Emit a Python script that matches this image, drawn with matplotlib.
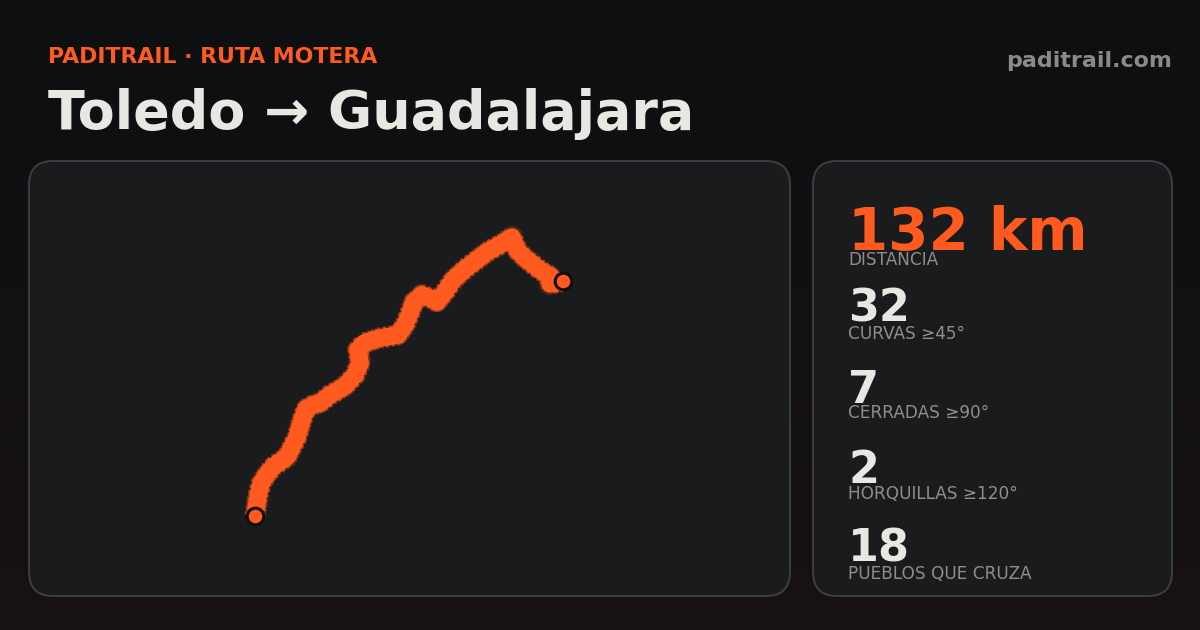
import matplotlib
matplotlib.use('Agg')
import matplotlib.pyplot as plt
import numpy as np
from matplotlib.patches import FancyBboxPatch

# route, in map panel units
route_x = [226, 229, 232, 238, 245, 258, 263, 268, 273, 277, 284, 291, 301, 316, 326, 331, 329, 335, 351, 369,
           376, 381, 385, 393, 401, 408, 416, 424, 436, 458, 474, 483, 488, 496, 511, 521, 521, 527, 534]
route_y = [80, 100, 112, 122, 130, 139, 149, 159, 176, 187, 191, 193, 201, 210, 221, 233, 246, 253, 258, 261,
           271, 283, 294, 301, 298, 294, 304, 316, 327, 344, 353, 359, 346, 338, 326, 320, 312, 313, 315]

stat_values = ['132 km', '32', '7', '2', '18']
stat_labels = ['DISTANCIA', 'CURVAS ≥45°', 'CERRADAS ≥90°', 'HORQUILLAS ≥120°', 'PUEBLOS QUE CRUZA']
stat_value_y = [250, 322, 403, 483, 562]
stat_label_y = [265, 339, 418, 499, 579]

ORANGE = '#ff5a1f'
WHITE = '#e8e8e2'
GREY = '#8e8e8e'

fig = plt.figure(figsize=(12, 6.3), dpi=100)

# whole figure canvas in pixels, y going down
bg = fig.add_axes([0, 0, 1, 1])
bg.set_xlim(0, 1200)
bg.set_ylim(630, 0)
bg.axis('off')

top = np.array([13, 15, 17]) / 255
bottom = np.array([24, 18, 18]) / 255
t = np.linspace(0, 1, 256)[:, None, None]
bg.imshow(top + (bottom - top) * t, extent=[0, 1200, 630, 0], aspect='auto', zorder=0)

# cards
for x0, x1 in [(29, 790), (813, 1172)]:
    card = FancyBboxPatch((x0 + 24, 161 + 24), x1 - x0 - 48, 435 - 48,
                          boxstyle='round,pad=24,rounding_size=24',
                          fc='#191b1d', ec='#3c3e42', lw=1.4, zorder=1)
    bg.add_patch(card)

# header
bg.text(48, 63, 'PADITRAIL · RUTA MOTERA', color=ORANGE, fontsize=15.85, fontweight='bold')
bg.text(48, 129, 'Toledo → Guadalajara', color=WHITE, fontsize=38.8, fontweight='bold')
bg.text(1172, 67, 'paditrail.com', color='#8a8a88', fontsize=15.9, fontweight='bold', ha='right')

# stats
for i in range(len(stat_values)):
    size = 41.7 if i == 0 else 32
    color = ORANGE if i == 0 else WHITE
    bg.text(848, stat_value_y[i], stat_values[i], color=color, fontsize=size, fontweight='bold')
    bg.text(848, stat_label_y[i], stat_labels[i], color=GREY, fontsize=12.2)

# map panel
ax = fig.add_axes([29 / 1200, 34 / 630, 761 / 1200, 435 / 630])
ax.set_xlim(0, 761)
ax.set_ylim(0, 435)
ax.axis('off')
ax.patch.set_alpha(0)

# dark rough edge, then the orange stroke over it
ax.plot(route_x, route_y, color='#5e2a14', lw=16, linestyle=(0, (0.12, 0.12)), alpha=0.9)
ax.plot(route_x, route_y, color=ORANGE, lw=14.5, linestyle=(0, (0.25, 0.07)), alpha=0.6)
ax.plot(route_x, route_y, color=ORANGE, lw=12.5, solid_capstyle='round', solid_joinstyle='round')

# start and end
ax.plot(route_x[0], route_y[0], 'o', ms=12, mfc=ORANGE, mec='#120c0a', mew=2.2)
ax.plot(route_x[-1], route_y[-1], 'o', ms=12, mfc=ORANGE, mec='#120c0a', mew=2.2)

fig.savefig('out.png', dpi=100)
